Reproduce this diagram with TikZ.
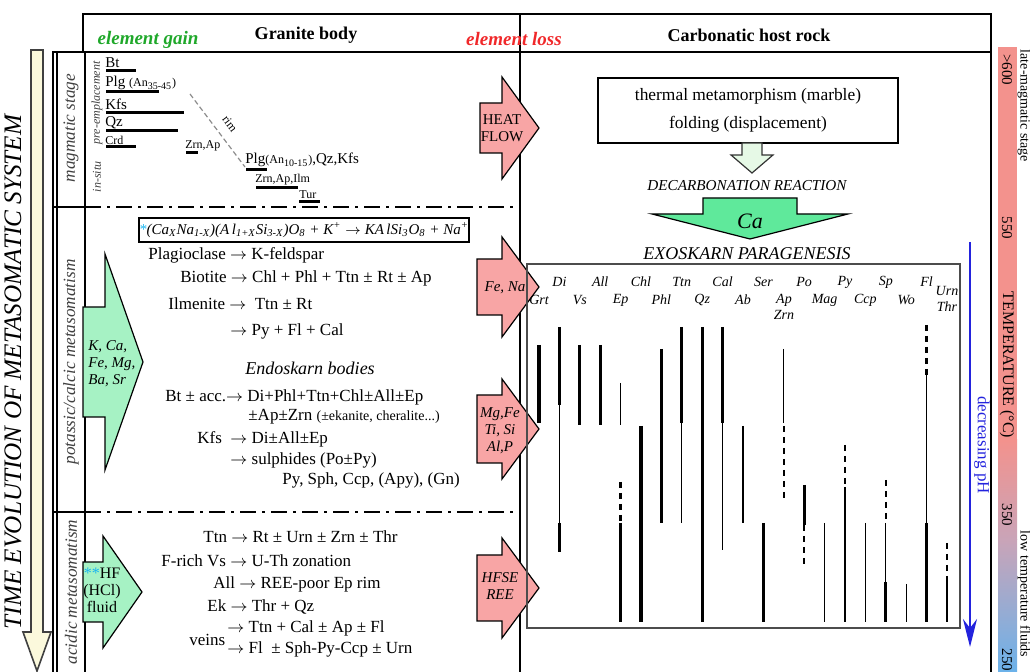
\documentclass[tikz,border=0pt]{standalone}
\usepackage{fontspec}
\setmainfont{Liberation Serif}
\usetikzlibrary{arrows.meta}

\definecolor{gaingreen}{HTML}{1FA82A}
\definecolor{lossred}{HTML}{F0282A}
\definecolor{pinkfill}{HTML}{F8A5A5}
\definecolor{mintfill}{HTML}{A6F2C4}
\definecolor{cafill}{HTML}{5FE99B}
\definecolor{palegreen}{HTML}{E6F9E6}
\definecolor{timefill}{HTML}{FBF9DC}
\definecolor{barsalmon}{HTML}{F3928D}
\definecolor{barmauve}{HTML}{C9A4B8}
\definecolor{barblue}{HTML}{6BB2EA}
\definecolor{starblue}{HTML}{19B5F0}
\definecolor{phblue}{HTML}{2323DD}

\newcommand{\rarr}{\ensuremath{\rightarrow}}
% block arrow to the right: style, x left, x head base, x tip, y centre, shaft half, head half
\newcommand{\blockarrow}[7]{%
  \draw[#1] (#2,#5-#6) -- (#3,#5-#6) -- (#3,#5-#7) -- (#4,#5) -- (#3,#5+#7) -- (#3,#5+#6) -- (#2,#5+#6) -- cycle;}
% block arrow pointing down: style, x centre, y top, y head base, y tip, shaft half, head half
\newcommand{\dnarrow}[7]{%
  \draw[#1] (#2-#6,#3) -- (#2+#6,#3) -- (#2+#6,#4) -- (#2+#7,#4) -- (#2,#5) -- (#2-#7,#4) -- (#2-#6,#4) -- cycle;}

\begin{document}
\begin{tikzpicture}[
    x=0.5pt, y=-0.5pt,
    outer/.style={line width=1.4pt},
    thinrule/.style={line width=0.6pt},
    dashdot/.style={line width=0.7pt, dash pattern=on 8pt off 3pt on 1.5pt off 3pt},
    rowtxt/.style={anchor=west, inner sep=0pt, font=\fontsize{8.5}{10}\selectfont},
    hdr/.style={inner sep=0pt, font=\fontsize{9}{10}\selectfont\bfseries},
    flux/.style={inner sep=0pt, font=\fontsize{9.5}{10}\selectfont\bfseries\itshape},
    stage/.style={rotate=90, inner sep=0pt, text=black!75, font=\fontsize{8.6}{10}\selectfont\itshape},
    substage/.style={stage, font=\fontsize{6}{7}\selectfont\itshape},
    mag/.style={anchor=west, inner sep=0pt, font=\fontsize{7.5}{8}\selectfont},
    magsm/.style={mag, font=\fontsize{6}{7}\selectfont},
    mbar/.style={line width=1.5pt},
    rimline/.style={draw=black!45, line width=0.6pt, dash pattern=on 2.5pt off 1.5pt},
    pinkarrow/.style={draw=black, fill=pinkfill, line width=0.6pt},
    greenarrow/.style={draw=black, fill=mintfill, line width=0.6pt},
    timearrow/.style={draw=black!75, fill=timefill, line width=0.8pt},
    arrowtxt/.style={inner sep=0pt, align=center, font=\fontsize{7.5}{8.5}\selectfont\itshape},
    collab/.style={inner sep=0pt, align=center, font=\fontsize{7}{8}\selectfont\itshape},
    thk/.style={line width=1.6pt},
    thn/.style={line width=0.6pt},
    dsh/.style={line width=1.2pt, dash pattern=on 3pt off 2.5pt},
    tbar/.style={rotate=-90, inner sep=0pt, font=\fontsize{7.5}{8}\selectfont},
  ]
  \useasboundingbox (0,0) rectangle (1030,672);

  % Frame
  \draw[outer] (53,672) -- (53,52) -- (83,52) -- (83,14) -- (991,14) -- (991,672);
  \draw[thinrule] (57,52) -- (57,672);
  \draw[thinrule] (83,52) -- (991,52);
  \draw[thinrule] (85,52) -- (85,672);
  \draw[thinrule] (520,14) -- (520,672);
  \draw[thinrule] (53,207) -- (85,207);
  \draw[thinrule] (53,512) -- (85,512);
  \draw[dashdot] (85,207) -- (520,207);
  \draw[dashdot] (85,512) -- (520,512);

  % Headers
  \node[flux, text=gaingreen] (gain) at (148,40) {element gain};
  \node[hdr] (granite) at (306,35) {Granite body};
  \node[flux, text=lossred] (loss) at (514,39) {element loss};
  \node[hdr] (host) at (749,35) {Carbonatic host rock};

  % Time axis
  \dnarrow{timearrow}{37}{50}{632}{671}{6}{14}
  \node[rotate=90, inner sep=0pt, font=\fontsize{12.6}{15}\selectfont\itshape] (timeaxis) at (13,372) {TIME EVOLUTION OF METASOMATIC SYSTEM};

  % Stages
  \node[stage] (magmatic) at (71,128) {magmatic stage};
  \node[stage] (potassic) at (71,362) {potassic/calcic metasomatism};
  \node[stage] (acidic) at (71,592) {acidic metasomatism};
  \node[substage] (preemp) at (97,103) {pre-emplacement};
  \node[substage] (insitu) at (97,177) {in-situ};

  % Magmatic minerals
  \node[mag] (bt) at (105,63) {Bt};
  \draw[mbar] (106,71) -- (136,71);
  \node[mag] (plgA) at (105,83) {Plg {\fontsize{6}{7}\selectfont(An\textsubscript{35-45})}};
  \draw[mbar] (106,92) -- (159,92);
  \node[mag] (kfs) at (105,104) {Kfs};
  \draw[mbar] (106,113) -- (184,113);
  \node[mag] (qz) at (105,123) {Qz};
  \draw[mbar] (106,131) -- (178,131);
  \node[magsm] (crd) at (105,140) {Crd};
  \draw[mbar] (106,147) -- (136,147);
  \node[magsm] (zrnap) at (185,146) {Zrn,Ap};
  \draw[mbar] (186,153) -- (198,153);
  \draw[rimline] (190,94) -- (245,167);
  \node[magsm, anchor=center, rotate=-53] (rim) at (230,124) {rim};
  \node[mag] (plgB) at (245,160) {Plg{\fontsize{6}{7}\selectfont(An\textsubscript{10-15})},Qz,Kfs};
  \draw[mbar] (246,170) -- (267,170);
  \node[magsm] (zrnapilm) at (255,180) {Zrn,Ap,Ilm};
  \draw[mbar] (256,188) -- (298,188);
  \node[magsm] (tur) at (299,195) {Tur};
  \draw[mbar] (299,202) -- (320,202);

  % Element loss arrows
  \blockarrow{pinkarrow}{480}{502}{539}{128}{25}{51}
  \node[arrowtxt, font=\fontsize{7.5}{8.5}\selectfont] (heat) at (502,128) {HEAT\\FLOW};
  \blockarrow{pinkarrow}{477}{502}{539}{287}{28}{50}
  \node[arrowtxt] (fena) at (505,288) {Fe, Na};
  \blockarrow{pinkarrow}{477}{502}{539}{429}{34}{50}
  \node[arrowtxt] (mgfe) at (500,431) {Mg,Fe\\Ti, Si\\Al,P};
  \blockarrow{pinkarrow}{477}{502}{539}{588}{33}{50}
  \node[arrowtxt] (hfse) at (500,586) {HFSE\\REE};

  % Element gain arrows
  \blockarrow{greenarrow}{83}{105}{143}{362}{55}{108}
  \node[arrowtxt, anchor=west, align=left] (kca) at (88,364) {K, Ca,\\Fe, Mg,\\Ba, Sr};
  \blockarrow{greenarrow}{83}{103}{142}{592}{30}{56}
  \node[arrowtxt, font=\fontsize{8}{8.5}\selectfont] (hf) at (102,590) {\textcolor{starblue}{**}HF\\(HCl)\\fluid};

  % Potassic / calcic metasomatism
  \node[draw, line width=1pt, minimum width=161pt, minimum height=12pt, inner sep=0pt,
        font=\fontsize{7.5}{9}\selectfont\itshape] (reaction) at (304,230)
    {\textcolor{starblue}{*}(Ca\textsubscript{X}Na\textsubscript{1-X})(A\,l\textsubscript{1+X}Si\textsubscript{3-X})O\textsubscript{8} + K\textsuperscript{+} \rarr{} KA\,lSi\textsubscript{3}O\textsubscript{8} + Na\textsuperscript{+}};
  \node[rowtxt] (plag) at (148,255) {Plagioclase \rarr{} K-feldspar};
  \node[rowtxt] (biot) at (180,278) {Biotite \rarr{} Chl + Phl + Ttn ± Rt ± Ap};
  \node[rowtxt] (ilm) at (168,304) {Ilmenite \rarr{}\ \ Ttn ± Rt};
  \node[rowtxt] (pyfl) at (230,331) {\rarr{} Py + Fl + Cal};
  \node[rowtxt, anchor=center, font=\fontsize{9}{10}\selectfont\itshape] (endo) at (310,368) {Endoskarn bodies};
  \node[rowtxt] (btacc) at (165,397) {Bt ± acc.\rarr{} Di+Phl+Ttn+Chl±All±Ep};
  \node[rowtxt] (apzrn) at (248,417) {±Ap±Zrn {\fontsize{7}{8}\selectfont(±ekanite, cheralite...)}};
  \node[rowtxt] (kfsdi) at (197,439) {Kfs\ \ \rarr{} Di±All±Ep};
  \node[rowtxt] (sulph) at (230,460) {\rarr{} sulphides (Po±Py)};
  \node[rowtxt] (pysph) at (282,480) {Py, Sph, Ccp, (Apy), (Gn)};

  % Acidic metasomatism
  \node[rowtxt] (ttn) at (203,537) {Ttn \rarr{} Rt ± Urn ± Zrn ± Thr};
  \node[rowtxt] (frich) at (161,561) {F-rich Vs \rarr{} U-Th zonation};
  \node[rowtxt] (all) at (213,584) {All \rarr{} REE-poor Ep rim};
  \node[rowtxt] (ek) at (207,607) {Ek \rarr{} Thr + Qz};
  \node[rowtxt] (veinA) at (227,628) {\rarr{} Ttn + Cal ± Ap ± Fl};
  \node[rowtxt] (veins) at (189,640) {veins};
  \node[rowtxt] (veinB) at (227,649) {\rarr{} Fl\ \ ± Sph-Py-Ccp ± Urn};

  % Host rock
  \node[draw, line width=0.9pt, minimum width=150pt, minimum height=32.5pt, align=center,
        font=\fontsize{8.7}{10}\selectfont] (meta) at (748,110.5)
    {thermal metamorphism (marble)\\[4pt]folding (displacement)};
  \dnarrow{draw=black!80, fill=palegreen, line width=0.6pt}{752}{143}{155}{173}{10}{21}
  \node[inner sep=0pt, font=\fontsize{7.6}{8}\selectfont\itshape] (decarb) at (747,186) {DECARBONATION REACTION};
  \dnarrow{draw=black, fill=cafill, line width=0.6pt}{750}{198}{214}{239}{47}{98}
  \node[inner sep=0pt, font=\fontsize{11}{12}\selectfont\itshape] (ca) at (750,221) {Ca};
  \node[inner sep=0pt, font=\fontsize{9}{10}\selectfont\itshape] (exo) at (747,254) {EXOSKARN PARAGENESIS};

  % Paragenesis
  \draw[draw=black!70, line width=0.9pt] (527,264) rectangle (960,628);
  \foreach \i/\m in {1/Di,3/All,5/Chl,7/Ttn,9/Cal,11/Ser,13/Po,15/Py,17/Sp,19/Fl}
    \node[collab] (lab\i) at ({539+20.4*\i},282) {\m};
  \foreach \i/\m in {0/Grt,2/Vs,4/Ep,6/Phl,8/Qz,10/Ab,14/Mag,16/Ccp,18/Wo}
    \node[collab] (lab\i) at ({539+20.4*\i},300) {\m};
  \node[collab] (lab12) at (784,307) {Ap\\Zrn};
  \node[collab] (lab20) at (947,299) {Urn\\Thr};
  \foreach \c/\a/\b in {0/345/423,1/327/405,1/523/552,2/345/425,3/345/425,4/523/622,5/426/622,
      6/349/523,7/327/423,8/327/622,9/327/423,11/523/622,13/485/525,17/582/622,19/523/622}
    \draw[thk] ({539+20.4*\c},\a) -- ({539+20.4*\c},\b);
  \foreach \c/\a/\b in {1/405/523,4/383/425,7/423/523,9/423/550,10/426/523,12/349/423,14/523/622,
      15/487/622,16/523/622,17/523/582,18/584/622,19/375/523,20/582/622}
    \draw[thn] ({539+20.4*\c},\a) -- ({539+20.4*\c},\b);
  \foreach \c/\a/\b in {4/482/523,12/426/502,13/525/567,15/445/487,17/480/523,19/325/375,20/543/582}
    \draw[dsh] ({539+20.4*\c},\a) -- ({539+20.4*\c},\b);

  % pH axis
  \coordinate (phtop) at (970,242);
  \coordinate (phend) at (970,647);
  \draw[phblue, line width=1.1pt, -{Stealth[length=14pt, width=7pt]}] (phtop) -- (phend);
  \node[rotate=-90, inner sep=0pt, text=phblue, font=\fontsize{8.5}{9}\selectfont] (ph) at (982,445) {decreasing pH};

  % Temperature bar
  \fill[barsalmon] (998,47) rectangle (1017,440);
  \shade[top color=barsalmon, bottom color=barmauve] (998,440) rectangle (1017,540);
  \shade[top color=barmauve, bottom color=barblue] (998,540) rectangle (1017,672);
  \node[tbar] (t600) at (1007,70) {>600};
  \node[tbar] (t550) at (1007,228) {550};
  \node[tbar, font=\fontsize{8}{9}\selectfont] (temp) at (1007,365) {TEMPERATURE (°C)};
  \node[tbar] (t350) at (1007,515) {350};
  \node[tbar] (t250) at (1007,660) {250};
  \node[tbar, font=\fontsize{7}{8}\selectfont] (late) at (1024,106) {late-magmatic stage};
  \node[tbar, font=\fontsize{7}{8}\selectfont] (lowt) at (1024,594) {low temperature fluids};
\end{tikzpicture}
\end{document}
